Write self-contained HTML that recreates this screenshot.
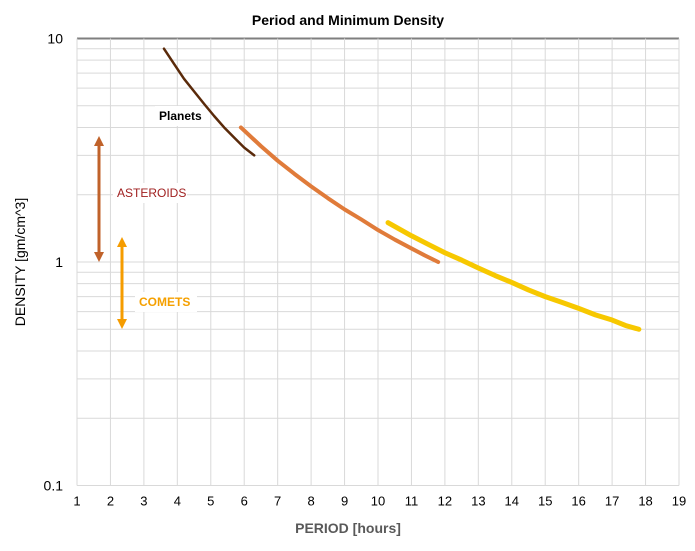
<!DOCTYPE html>
<html><head><meta charset="utf-8"><style>
body{margin:0;background:#fff;font-family:"Liberation Sans",sans-serif}
</style></head><body>
<svg id="chart" width="695" height="546" xmlns="http://www.w3.org/2000/svg" font-family="Liberation Sans, sans-serif">
<rect width="695" height="546" fill="#fff"/>
<text x="348" y="25" text-anchor="middle" font-size="14" font-weight="bold">Period and Minimum Density</text>
<g id="grid"></g>
<g id="series"></g>
<g id="annot"></g>
<text x="348" y="533" text-anchor="middle" font-size="14" font-weight="bold" fill="#595959">PERIOD [hours]</text>
<text transform="translate(25,262) rotate(-90)" text-anchor="middle" font-size="14" fill="#000">DENSITY [gm/cm^3]</text>
</svg>
<script>
const xTicks=[1,2,3,4,5,6,7,8,9,10,11,12,13,14,15,16,17,18,19];
const yTickLabels=[0.1,1,10];
const planetsP=[3.6,3.9,4.2,4.5,4.8,5.1,5.4,5.7,6.0,6.3];
const planetsD=[9.0,7.7,6.6,5.8,5.1,4.5,4.0,3.6,3.25,3.0];
const asteroidP=[5.9,6.5,7,7.5,8,8.5,9,9.5,10,10.5,11,11.4,11.8];
const asteroidD=[4.0,3.3,2.84,2.48,2.18,1.93,1.72,1.55,1.39,1.26,1.15,1.07,1.0];
const cometP=[10.3,11,11.5,12,12.5,13,13.5,14,14.5,15,15.5,16,16.5,17,17.4,17.8];
const cometD=[1.5,1.31,1.2,1.10,1.02,0.94,0.87,0.81,0.75,0.70,0.66,0.62,0.58,0.55,0.52,0.50];
const NS="http://www.w3.org/2000/svg";
const X0=77,X1=679,YT=38.5,YB=485.5;
const xs=v=>X0+(v-1)*(X1-X0)/18;
const ys=v=>YB-(Math.log10(v)+1)*(YB-YT)/2;
function mk(tag,attrs,parent){const e=document.createElementNS(NS,tag);for(const k in attrs)e.setAttribute(k,attrs[k]);parent.appendChild(e);return e;}
const grid=document.getElementById('grid');
for(const d of [0.1,1]){for(let m=2;m<=9;m++){const l=mk('line',{x1:X0,x2:X1,y1:ys(d*m),y2:ys(d*m),stroke:'#d9d9d9','stroke-width':1},grid);

}}
yTickLabels.forEach(v=>{const l=mk('line',{x1:X0,x2:X1,y1:ys(v),y2:ys(v),stroke:v===10?'#7f7f7f':'#d9d9d9','stroke-width':v===10?2:1},grid);


const t=mk('text',{x:X0-14,y:ys(v)+5,'text-anchor':'end','font-size':14},grid);t.textContent=v;

});
xTicks.forEach(v=>{const l=mk('line',{x1:xs(v),x2:xs(v),y1:YT,y2:YB,stroke:'#d9d9d9','stroke-width':1},grid);


const t=mk('text',{x:xs(v),y:YB+20,'text-anchor':'middle','font-size':13},grid);t.textContent=v;

});
const ser=document.getElementById('series');
function line(P,D,color,w,name){const pts=P.map((p,i)=>xs(p)+','+ys(D[i])).join(' ');
const e=mk('polyline',{points:pts,fill:'none',stroke:color,'stroke-width':w,'stroke-linecap':'round','stroke-linejoin':'round'},ser);

}
line(asteroidP,asteroidD,'#e07b3a',4,'asteroid-curve');
line(cometP,cometD,'#f7c800',5,'comet-curve');
line(planetsP,planetsD,'#5a2a0a',2.5,'planets-curve');
const an=document.getElementById('annot');
function arrow(x,y1,y2,c,name){const g=mk('g',{},an);
mk('line',{x1:x,x2:x,y1:y1+8,y2:y2-8,stroke:c,'stroke-width':3},g);
mk('polygon',{points:`${x-5},${y1+10} ${x+5},${y1+10} ${x},${y1}`,fill:c},g);
mk('polygon',{points:`${x-5},${y2-10} ${x+5},${y2-10} ${x},${y2}`,fill:c},g);}
arrow(99,136,262,'#c0622a','asteroids-arrow');
arrow(122,237,329,'#f59c00','comets-arrow');
function label(x,y,w,txt,c,name,bold){mk('rect',{x:x-4,y:y-14,width:w,height:20,fill:'#fff'},an);
const t=mk('text',{x:x,y:y,'font-size':12,fill:c,'font-weight':bold?'bold':'normal'},an);t.textContent=txt;

}
label(117,197,74,'ASTEROIDS','#a02020','asteroids-label',false);
label(139,306,62,'COMETS','#f5a000','comets-label',true);
label(159,120,46,'Planets','#000','planets-label',true);
</script>
</body></html>
